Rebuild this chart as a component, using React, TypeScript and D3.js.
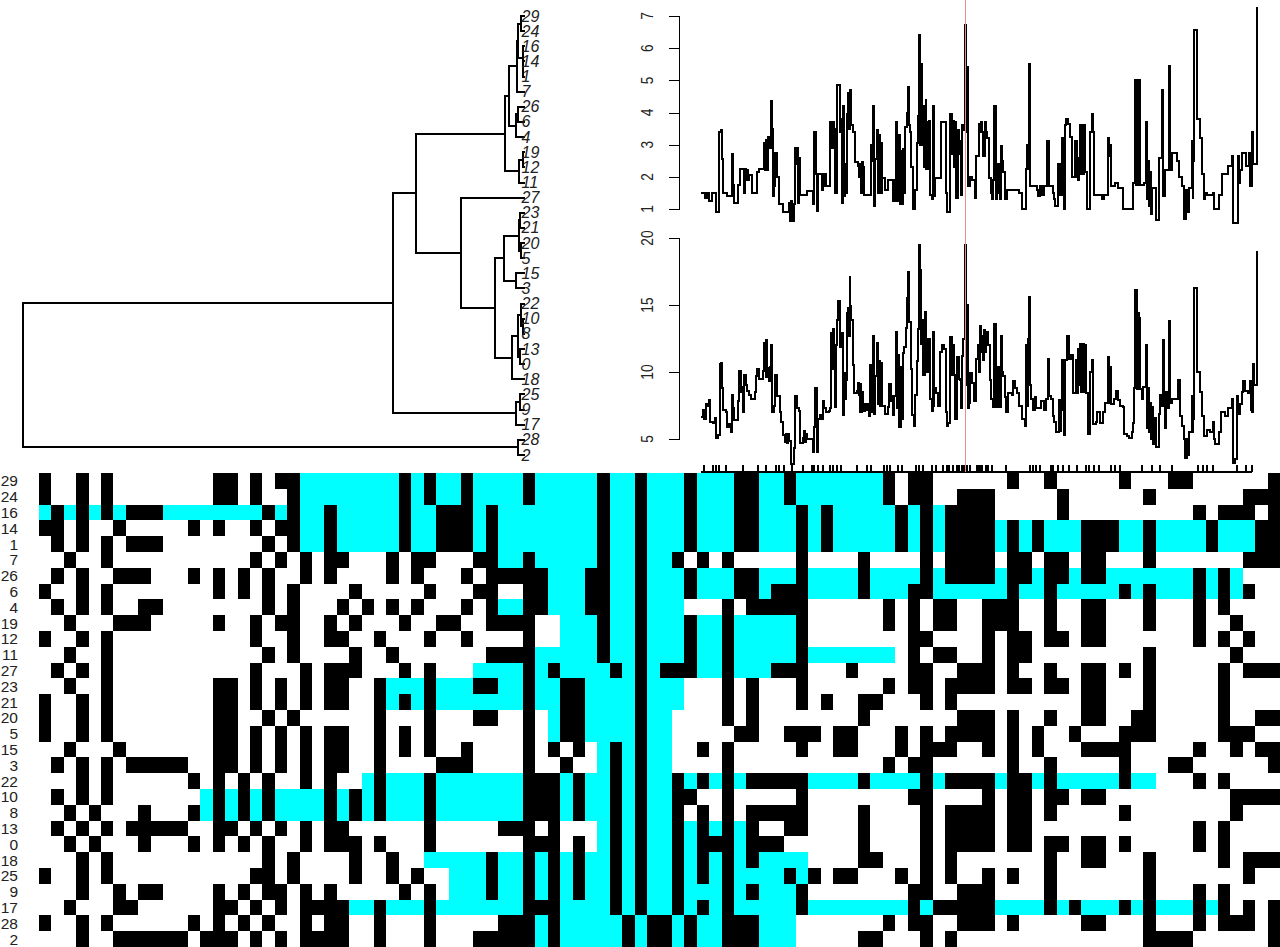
import React from "react";
import * as d3 from "d3";

const rowLabels = ["29","24","16","14","1","7","26","6","4","19","12","11","27","23","21","20","5","15","3","22","10","8","13","0","18","25","9","17","28","2"];

const blackRuns = [
"0,3,5,14-15,17,19-20,29,31,34,39,45,48,52,56-57,60,68,70-71,78,81,87,91-92,99",
"0,3,5,14-15,17,20,29,31,34,39,45,48,52,56-57,60,68,70-71,74-76,82,89,97-99",
"1,3,5,7-9,18,20,23,29,32-34,36,45,48,52,56-57,61,63,69,71,73-76,82,93,95-97,99",
"0-1,3,6,12,14,17,19-20,23,29,32-34,36,45,48,52,56-57,61,63,69,71,73-76,78,80,84-86,89,94,98-99",
"1,3,5,7-9,18,20,23,29,32-34,36,45,48,52,56-57,61,63,69,71,73-76,78,80,84-86,89,94,98-99",
"2,5,17,19,21,23-24,28,30-31,35-36,39,45,48,51,53,55,61,66,71,73-76,78-79,81-82,84-85,89,97-99",
"1,3,6-8,12,14,16,18,21,23,28,30,34,36-40,44-45,48,52,56-57,61,66,71,73-76,78-79,81-82,84-85,93,95",
"0,3,5,14,16,18,20,25,31,35-36,39-40,44-45,48,52,56-57,59-61,66,70-71,78,81,87,89,93,95,97",
"1,3,5,8-9,18,20,24,26,28,30,34,36,39-40,44-45,48,55,57-61,68,70,72-73,76-78,81,84-85,89,93,95",
"2,6-8,14,17,19-20,23,25,29,32-33,36-39,45,48,52,55,61,68,70,72-73,76-78,81,84-85,89,93,96",
"0,3,5,17,20,23-24,27,31,34,39,45,48,52,55,61,70-71,76,78-79,81-82,84-85,93,95,97",
"2,5,18,20,25,28,36-39,45,48,52,55,61,70,72-73,76,78-79,89,96",
"1,3,5,17,21,23-25,29,31,39,41,46,48,50-52,55,59-61,65,70-71,74-76,78,81,84-85,87,89,95,97-99",
"2,5,14-15,17,19,21,23-24,27,31,35-36,39,42-43,48,55,57,61,68,70-71,73-76,78-79,81-82,84-85,89,95",
"0,3,5,14-15,17,19,21,23-24,27,29,31,39,42-43,48,55,57,61,63,66-67,71,73,84-85,89,95",
"0,3,5,14-15,18,20,27,31,35-36,39,42-43,48,55,57,66,74-76,78,81,84-85,88-89,95,98-99",
"0,3,5,14-15,17,19,21,23-24,27,29,31,39,42-43,48,56-57,60-62,64-65,69,71,73-76,78,80,83,87-89,95-97",
"2,6,14-15,17,19,21,23-24,27,29,31,34,39,41,43,46,48,53,55,61,64-65,69,71-73,76,78,80,84-87,93,96,98-99",
"1,3,5,7-11,14-15,17,19,21,23-24,27,32-34,39,42,46,48,55,68,70-71,78,81,87,91-92,99",
"3,5,12,14,16,18,21,23,27,31,39-41,43,46,48,51,53,55,57-61,66,71,73-76,78-79,81,87,93,95",
"1,3,5,14,16,18,23,25,27,31,39-41,43,46,48,51-52,55,61,70-71,76,78-79,81-82,84-85,96-99",
"2,4,8,12,14,16,18,23,25,27,31,39-41,43,46,48,51,53,55,57-61,66,71,73-76,78-79,81,87,96",
"1,3,5,7-11,14-15,17,19,21,23-24,31,37-39,41,46,48,51,53,55,57,60-61,66,71,73-76,78-79,93,95",
"2,4,8,12,14,16,18,21,23-25,27,31,39-41,43,46,48,51,53-55,57-59,66,71,73-76,78-79,81-82,84-85,87,93,95",
"3,5,18,20,25,28,36,39,41,43,46,48,51,53,55,57,66-67,71,73,81,84-85,89,95,97-99",
"0,3,5,17-18,20,25,28,30,36,39,41,43,46,48,51,53,55,60,62,64-65,69,71,73,76,78,81,89,97",
"3,6,8-9,14,16,18-19,21,23,29,31,36,39,41,43,46,48,51,55,57,61,70-71,74-76,81,89,93,95",
"2,6-7,14-15,17,19,21-24,27,31,39-41,46,48,51,53,55,61,70,72-76,81,83,87,89,93,95,97,99",
"0,3,5,12,14,16,18,21,23-24,27,31,37-39,41,47,49-50,52,55-57,68,70-71,74-76,78,84-85,89,93,95-97,99",
"3,6-11,13-15,17,19,21-24,27,31,35-39,41,47,49-50,52,55-57,66-67,71,73,89-92,99",
];

const cyanRuns = [
"21-28,30,32-33,35-38,40-44,46-47,49-51,53-55,58-59,61-67",
"21-28,30,32-33,35-38,40-44,46-47,49-51,53-55,58-59,61-67",
"0,2,4,6,10-17,19,21-22,24-28,30-31,35,37-44,46-47,49-51,53-55,58-60,62,64-68,70,72",
"21-22,24-28,30-31,35,37-44,46-47,49-51,53-55,58-60,62,64-68,70,72,77,79,81-83,87-88,90-93,95-97",
"21-22,24-28,30-31,35,37-44,46-47,49-51,53-55,58-60,62,64-68,70,72,77,79,81-83,87-88,90-93,95-97",
"37-38,40-44,46-47,49-50",
"41-43,46-47,49-51,53-55,58-60,62-65,67-70,72,77,80,83,86-92,94,96",
"41-43,46-47,49-51,53-55,58,62-65,67-69,72-77,79-80,82-86,88,90-92,94,96",
"37-38,41-43,46-47,49-51",
"42-44,46-47,49-51,53-54,56-60",
"42-44,46-47,49-51,53-54,56-60",
"40-44,46-47,49-51,53-54,56-60,62-68",
"35-38,40,42-45,47,49,53-54,56-58",
"28-30,32-34,37-38,40-41,44-47,49-51",
"28,30,32-38,40-41,44-47,49-51",
"41,44-47,49-50",
"41,44-47,49-50",
"45,47,49-50",
"45,47,49-50",
"26,28-30,32-38,42,44-45,47,49-50,52,54,56,62-65,67-70,72,77,80,82-86,88-89",
"13,15,17,19-22,24,26,28-30,32-38,42,44-45,47,49-50",
"13,15,17,19-22,24,26,28-30,32-38,42,44-45,47,49-50",
"45,47,49-50,52,54,56",
"45,47,49-50,52,56",
"31-35,37-38,40,42,44-45,47,49-50,52,54,56,58-61",
"33-35,37-38,40,42,44-45,47,49-50,52,54,56-59,61",
"33-35,37-38,40,42,44-45,47,49-50,52-54,56,58-60",
"25-26,28-30,32-38,42-45,47,49-50,52,54,56-60,62-69,71,77-80,82,84-86,88,90-92,94",
"40,42-46,48,51,53-54,58-60",
"40,42-46,48,51,53-54,58-60",
];

const leafOrder = rowLabels;
type Tree = { h: number; c: (Tree | string)[] };
const dendrogram: Tree = { h: 501, c: [
  { h: 131, c: [
    { h: 108, c: [
      { h: 19, c: [
        { h: 15, c: [
          { h: 7, c: [
            { h: 6, c: [{ h: 3, c: ["29", "24"] }, { h: 1.3, c: ["16", { h: 0.7, c: ["14", "1"] }] }] },
            "7",
          ] },
          { h: 8.5, c: [{ h: 6, c: ["26", "6"] }, "4"] },
        ] },
        { h: 5.3, c: [{ h: 1.3, c: ["19", "12"] }, "11"] },
      ] },
      { h: 63, c: [
        "27",
        { h: 29, c: [
          { h: 20, c: [
            { h: 5, c: [{ h: 4, c: ["23", "21"] }, { h: 3, c: ["20", "5"] }] },
            { h: 8, c: ["15", "3"] },
          ] },
          { h: 12, c: [
            { h: 6, c: [
              { h: 3, c: ["22", { h: 1.3, c: ["10", "8"] }] },
              { h: 4, c: ["13", "0"] },
            ] },
            "18",
          ] },
        ] },
      ] },
    ] },
    { h: 8, c: [{ h: 4, c: ["25", "9"] }, "17"] },
  ] },
  { h: 6, c: ["28", "2"] },
] };

type Pt = [number, number];
const splitOffset = 960;

const upperA: Pt[] = [[212,1.5],[225,1.35],[230,1.5],[237,1.25],[245,1.5],[257,.92],[268,3.4],[273,3.45],[277,2.55],[280,1.5],[292,1.4],[305,2.7],[309,1.75],[312,1.2],[324,1.75],[330,2.25],[342,1.5],[345,2.25],[348,1.9],[351,2.2],[354,1.9],[357,2.05],[365,1.5],[380,2.15],[388,2.25],[403,3.05],[406,2.2],[409,3.15],[412,2.2],[415,3.25],[418,2.9],[422,4.35],[425,3.5],[428,1.4],[432,1.7],[436,2.75],[441,2],[448,1.15],[458,.9],[478,1.2],[481,.62],[484,1.25],[487,.62],[491,1.15],[495,2.9],[498,2.4],[501,2.9],[504,1.2],[507,2.6],[511,1.45],[530,1.55],[550,1.15],[553,3.4],[558,2.1],[561,.95],[565,2.1],[575,1.6],[578,2.1],[582,1.7],[586,2.1],[589,1.7],[601,3.7],[607,2.9],[609,3.7],[611,2.9],[613,3.5],[616,1.5],[620,4.85],[630,3.4],[633,3.8],[637,1.2],[640,4.2],[643,1.4],[646,2.4],[648,1.5],[651,3.95],[653,3.5],[655,4.6],[658,3.5],[660,4.7],[663,3.6],[670,3.4],[674,2.45],[684,2.35],[688,2],[691,2.4],[693,1.5],[696,2.45],[699,2.3],[702,1.45],[724,3],[728,2.5],[730,4.2],[733,1.1],[736,2.55],[740,3.45],[743,1.5],[746,3.3],[749,1.5],[752,3.05],[755,1.5],[757,1.95],[764,1.6],[775,1.9],[788,1.25],[791,1.9],[797,1.25],[799,3.7],[802,1.25],[806,3.3],[809,1.15],[812,2.8],[815,1.15],[818,2.85],[821,1.5],[824,3.55],[830,4],[833,4.8],[836,3.6],[840,3.4],[844,2.3],[848,1.3],[850,1],[856,1.6],[860,3.05],[864,3.9],[866,6.4],[870,3],[872,5.5],[875,3],[878,3.7],[881,2.3],[883,4.2],[885,3.5],[887,4.4],[889,2.25],[892,3.7],[895,2.25],[898,3.75],[901,1.45],[905,1.3],[908,4.2],[911,1.4],[914,1.95],[932,3.7],[948,1.5],[951,.92]];
const upperB: Pt[] = [[1,3.95],[5,2.7],[9,3.75],[13,2.3],[16,3.7],[19,1.35],[23,3.45],[27,2.7],[30,3.1],[33,1.45],[36,3.6],[40,3.45],[45,6.73],[49,3.4],[51,5.4],[53,1.7],[60,2],[66,1.9],[74,1.35],[78,2.64],[88,3.65],[91,3.4],[94,3.7],[97,3.4],[100,2.64],[104,3.7],[107,3.4],[112,3.2],[118,1.96],[124,1.5],[127,1.3],[130,1.9],[133,4.19],[138,1.3],[141,2.4],[144,1.5],[147,2.4],[150,1.3],[153,2.95],[157,2.5],[160,2.15],[165,1.3],[172,1.6],[206,1.5],[215,1],[228,2.25],[231,3],[234,2.25],[236,5.52],[241,1.7],[260,1.6],[263,1.4],[270,1.7],[276,1.45],[282,1.7],[292,3.1],[296,1.7],[308,1.5],[312,1.3],[316,1.1],[325,2.4],[329,1.45],[336,3.2],[339,2.4],[342,1],[345,3.6],[347,3.8],[353,3.65],[360,3.25],[366,2],[376,3.1],[380,2],[384,1.9],[388,2.6],[391,3.6],[394,2.1],[397,3.6],[400,2.1],[403,3.6],[406,2.15],[412,1],[420,3.4],[425,3.95],[428,3.4],[431,1.45],[456,1.3],[461,1.45],[473,3.2],[476,2.65],[479,3],[482,1.7],[495,1.8],[503,1.65],[520,1],[548,1.8],[556,5],[559,1.75],[562,5],[565,1.75],[568,5],[571,1.75],[581,1.8],[587,3.7],[590,1.3],[593,2.5],[596,1.1],[600,2.15],[603,.85],[607,1.65],[618,.67],[628,2.6],[637,4.69],[640,1.4],[645,2.2],[658,5.46],[661,2.2],[665,2.74],[680,2.5],[688,2],[695,1.7],[703,.7],[708,1.6],[711,.9],[718,1.65],[725,3.1],[728,1.35],[730,2.5],[733,6.55],[740,3.8],[750,3.2],[756,2.1],[762,1.3],[765,1.5],[770,1.45],[788,1.5],[791,1],[808,1.45],[815,2.1],[835,2.35],[845,2.65],[848,1.6],[850,.55],[863,2.65],[866,1.8],[870,2.2],[876,2.75],[888,2.35],[898,2.75],[901,1.7],[905,3.4],[909,2.4],[920,7.28]];

const lowerA: Pt[] = [[212,6.65],[219,7.2],[222,6.5],[225,7.1],[227,6.5],[229,7.6],[235,7.5],[238,7.9],[241,6.3],[250,6.2],[256,6.55],[258,5.1],[264,5.3],[269,10.6],[274,10.7],[277,8.8],[280,7.2],[287,7],[290,5.9],[298,6.1],[303,5.5],[306,8.3],[310,7.3],[313,6.4],[324,7.8],[328,10.1],[332,8.5],[336,8.9],[339,7],[342,9.8],[347,9],[352,8.6],[358,8.3],[364,8],[374,8.5],[379,9.7],[382,10.2],[387,9.5],[399,10.1],[403,12.2],[407,9.6],[409,12.4],[411,9.6],[413,10.3],[416,9.3],[419,10.4],[422,9.3],[424,12],[427,7],[431,7.5],[435,9.8],[440,8.2],[449,7],[454,6.3],[459,5.3],[464,4.8],[469,5.4],[472,4.7],[475,5.4],[478,4.85],[484,3.1],[492,4.3],[495,8.2],[502,7.3],[508,7.1],[511,4.7],[518,5.1],[521,5.6],[525,4.8],[528,5.4],[532,5],[549,4],[553,5.9],[556,8.8],[561,4],[565,6.5],[571,6.8],[575,6.5],[578,7.8],[583,7.3],[587,7],[596,7.1],[600,7.3],[602,12.9],[605,10.2],[608,13.2],[611,10.2],[613,11.6],[616,7.4],[619,12],[621,13.9],[624,15.3],[630,11.9],[633,12.6],[636,12.9],[638,6.8],[642,9.9],[645,8],[648,9.4],[650,14.4],[653,12.7],[655,14.8],[657,12.7],[659,17.1],[661,14.9],[663,13.9],[668,10.5],[672,8.4],[680,8.6],[683,9.2],[686,8.3],[689,7],[691,9.1],[694,7],[696,8.5],[700,7.1],[705,7.6],[708,7.2],[712,7.6],[716,6.7],[720,10.5],[725,7],[728,12.7],[731,6.9],[735,9.7],[740,12.2],[744,7.6],[747,10.8],[750,7.5],[752,10.7],[755,7.5],[764,6.9],[774,7.4],[778,9.1],[782,7.8],[785,8.2],[789,6.8],[793,8.2],[797,13],[802,7.3],[805,11.3],[808,5.9],[812,10.4],[815,6.5],[818,11.4],[823,11.9],[827,13.3],[830,15.5],[833,17.5],[838,13.7],[843,10.2],[847,6.8],[851,6],[856,8.3],[861,10.8],[864,13.2],[866,19.5],[871,17.6],[874,12.1],[877,13.9],[880,9.8],[884,14.5],[889,10],[892,12.5],[895,10],[898,12.5],[901,8],[905,7.1],[908,13],[911,7.5],[913,8.8],[919,8.4],[924,7.5],[931,11.5],[937,12],[942,11.7],[948,7],[951,6],[955,6.2]];
const lowerB: Pt[] = [[1,12.6],[6,9.8],[9,12],[12,9.8],[15,6.5],[22,11.1],[26,9.5],[29,9.4],[32,7.3],[36,11.2],[40,12.5],[44,19.5],[48,9],[50,15],[53,7.3],[58,7.7],[61,9.9],[67,9.2],[72,7.8],[78,11],[83,12],[86,10],[89,13.4],[93,11.5],[96,12.7],[100,10.9],[103,13.1],[106,11.5],[109,13],[113,12],[119,9.4],[124,8],[128,7.4],[133,13.6],[138,7.4],[140,9.4],[145,10.4],[148,7.4],[152,12.7],[156,10],[160,9.7],[165,8.1],[169,7],[173,8.4],[185,8.3],[189,9.3],[195,8.8],[202,8.4],[207,7.5],[215,6.5],[224,6],[228,12],[231,7.5],[234,12.5],[236,15.6],[240,9],[243,8],[248,7.2],[254,8.1],[258,7.3],[268,7.3],[274,7.8],[281,7.2],[288,8],[294,11],[298,8.2],[304,8],[308,6.7],[313,6.3],[318,5.5],[326,7.9],[329,5.6],[332,7.2],[337,10.9],[341,5.3],[344,10.9],[350,12.7],[356,11],[363,11.3],[368,8.4],[377,10.9],[380,8.4],[384,11.7],[387,9],[390,12.1],[394,8.5],[398,12.1],[402,8.5],[405,12],[408,8.4],[415,5.4],[421,10],[426,10.9],[430,6.1],[438,6.3],[442,7],[449,6.2],[458,7],[464,7.7],[473,11.1],[477,7.7],[480,10.4],[483,7.6],[492,8],[497,8.6],[503,7.9],[510,7.5],[518,7.4],[521,5.4],[530,5.2],[538,5.1],[545,5.5],[548,6.2],[551,8.8],[556,16.1],[560,8.7],[563,14.4],[566,8.7],[568,14],[571,8.7],[575,8],[580,8.9],[587,12],[590,5.8],[593,8.8],[596,5.5],[599,7.7],[602,5],[605,7.4],[608,4.6],[611,6.6],[618,4.4],[626,6.9],[631,8.3],[635,7.5],[638,12.4],[641,7.6],[644,5.8],[647,8.5],[653,7.3],[658,13.8],[661,7.7],[666,8],[684,9.4],[689,6.7],[697,6],[702,5],[705,3.6],[710,5],[713,3.8],[718,5.5],[725,8.2],[728,5.5],[730,6.5],[733,16.3],[740,10],[750,8.5],[757,6.7],[762,5.2],[770,5.7],[780,5.5],[788,6.3],[791,5],[796,4.6],[806,5.5],[812,7],[824,6.7],[834,7.3],[846,8],[849,3.2],[855,3.5],[862,8.2],[865,6.9],[870,7.6],[875,8.5],[880,9.3],[884,8.6],[895,8.4],[899,9.3],[902,7.2],[906,7],[908,10.6],[911,9],[917,9],[920,19]];

const rugA = [222,250,258,268,288,338,385,408,438,446,462,485,518,545,553,565,578,600,608,622,632,682,712,722,762,770,780,805,815,858,868,880,905,918,940,950,958];
const rugB = [8,20,27,35,42,50,60,80,85,90,95,108,115,125,167,240,248,258,270,302,310,325,340,358,380,408,418,432,447,483,495,510,575,605,630,665,745,760,770,788,860,888,905];

const upperTicks = [1, 2, 3, 4, 5, 6, 7];
const lowerTicks = [5, 10, 15, 20];
const markerPos = splitOffset + 46; // position of the marked locus

const parseRuns = (s: string) =>
  s.split(",").flatMap((t) => {
    const [a, b] = t.split("-").map(Number);
    return d3.range(a, (b ?? a) + 1);
  });

const font = "'Liberation Sans', Arial, sans-serif";

export default function App() {
  const xCol = d3.scaleLinear().domain([0, 100]).range([39, 1280]);
  const yRow = d3.scaleLinear().domain([0, 30]).range([473, 947]);
  const pos = d3.scaleLinear().domain([0, 1890]).range([630, 1260]);
  const yUp = d3.scaleLinear().domain([1, 7]).range([209, 16]);
  const yLow = d3.scaleLinear().domain([5, 20]).range([439, 238]);
  const xTree = d3.scaleLinear().domain([0, 501]).range([524, 23]);
  const yLeaf = d3.scaleLinear().domain([0, 29]).range([16, 455]);

  const cells: { r: number; c: number; f: string }[] = [];
  blackRuns.forEach((s, r) => parseRuns(s).forEach((c) => cells.push({ r, c, f: "#000" })));
  cyanRuns.forEach((s, r) => parseRuns(s).forEach((c) => cells.push({ r, c, f: "#00ffff" })));

  const shift = (a: Pt[]): Pt[] => a.map(([p, v]) => [p + splitOffset, v]);
  const upper = [...upperA, ...shift(upperB)];
  const lower = [...lowerA, ...shift(lowerB)];
  const rug = [...rugA, ...rugB.map((p) => p + splitOffset)];

  const lineUp = d3.line<Pt>().x((d) => pos(d[0])).y((d) => yUp(d[1])).curve(d3.curveStepAfter);
  const lineLow = d3.line<Pt>().x((d) => pos(d[0])).y((d) => yLow(d[1])).curve(d3.curveStepAfter);

  const root = d3.hierarchy<any>(dendrogram, (d) => (typeof d === "string" ? null : d.c));
  const yOf = new Map<any, number>();
  root.eachAfter((n) => {
    if (n.children) yOf.set(n, d3.mean(n.children, (k) => yOf.get(k)) as number);
    else yOf.set(n, yLeaf(leafOrder.indexOf(n.data)));
  });
  const hOf = (n: any) => (typeof n.data === "string" ? 0 : n.data.h);
  let tree = "";
  root.each((n) => {
    if (!n.children) return;
    const px = xTree(hOf(n));
    const ys = n.children.map((k) => yOf.get(k) as number);
    tree += `M${px},${ys[0]}V${ys[1]}`;
    n.children.forEach((k) => {
      tree += `M${px},${yOf.get(k)}H${xTree(hOf(k))}`;
    });
  });

  const axis = (scale: d3.ScaleLinear<number, number>, ticks: number[]) => (
    <g stroke="#000" strokeWidth={1}>
      <path
        d={`M669,${Math.round(scale(ticks[0])) + 0.5}H679.5V${Math.round(scale(ticks[ticks.length - 1])) + 0.5}H669`}
        fill="none"
        shapeRendering="crispEdges"
      />
      {ticks.map((t) => (
        <g key={t}>
          <line x1={669} x2={679.5} y1={Math.round(scale(t)) + 0.5} y2={Math.round(scale(t)) + 0.5} shapeRendering="crispEdges" />
          <text
            transform={`translate(653,${scale(t)}) rotate(-90) scale(0.92,1.08)`}
            textAnchor="middle"
            fontSize={15}
            fontFamily={font}
            stroke="none"
            fill="#222"
          >
            {t}
          </text>
        </g>
      ))}
    </g>
  );

  return (
    <svg
      width={1280}
      height={947}
      viewBox="0 0 1280 947"
      style={{ position: "absolute", left: 0, top: 0, display: "block", background: "#fff" }}
    >
      <path d={tree} fill="none" stroke="#000" strokeWidth={2} strokeLinecap="square" shapeRendering="crispEdges" />
      {leafOrder.map((l, i) => (
        <text
          key={l}
          x={521.5}
          y={yLeaf(i) + 5.5}
          fontSize={16}
          fontStyle="italic"
          fontFamily={font}
          fill="#222"
        >
          {l}
        </text>
      ))}

      {axis(yUp, upperTicks)}
      {axis(yLow, lowerTicks)}
      <path d={lineUp(upper) as string} fill="none" stroke="#000" strokeWidth={2} shapeRendering="crispEdges" />
      <path d={lineLow(lower) as string} fill="none" stroke="#000" strokeWidth={2} shapeRendering="crispEdges" />

      <g stroke="#000" strokeWidth={2} shapeRendering="crispEdges">
        <line x1={pos(rug[0]) - 3} x2={1252} y1={471.5} y2={471.5} strokeWidth={2} />
        {rug.map((p, i) => (
          <line key={i} x1={pos(p)} x2={pos(p)} y1={465} y2={472} />
        ))}
      </g>
      <line
        x1={pos(markerPos)}
        x2={pos(markerPos)}
        y1={0}
        y2={472}
        stroke="#e8908a"
        strokeWidth={1}
        shapeRendering="crispEdges"
      />

      <g shapeRendering="crispEdges">
        {cells.map(({ r, c, f }, i) => {
          const x0 = Math.round(xCol(c));
          const y0 = Math.round(yRow(r));
          return (
            <rect
              key={i}
              x={x0}
              y={y0}
              width={Math.round(xCol(c + 1)) - x0}
              height={Math.round(yRow(r + 1)) - y0}
              fill={f}
            />
          );
        })}
      </g>
      {rowLabels.map((l, r) => (
        <text
          key={l}
          x={18}
          y={yRow(r + 0.5) + 5.5}
          textAnchor="end"
          fontSize={15.5}
          fontFamily={font}
          fill="#222"
        >
          {l}
        </text>
      ))}
    </svg>
  );
}
